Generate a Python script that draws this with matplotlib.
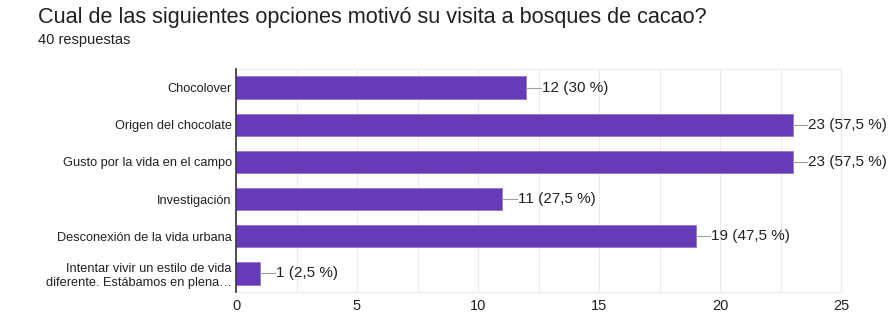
import matplotlib
matplotlib.use('Agg')
import matplotlib.pyplot as plt
import numpy as np

plt.rcParams['font.family'] = ['Liberation Sans', 'DejaVu Sans']

categories = [
    "Chocolover",
    "Origen del chocolate",
    "Gusto por la vida en el campo",
    "Investigación",
    "Desconexión de la vida urbana",
    "Intentar vivir un estilo de vida\ndiferente. Estábamos en plena…",
]
counts = [12, 23, 23, 11, 19, 1]
percents = ["30", "57,5", "57,5", "27,5", "47,5", "2,5"]
xticks = [0, 5, 10, 15, 20, 25]

fig = plt.figure(figsize=(8.9, 3.14), dpi=100)
ax = fig.add_axes([236 / 890, 1 - 292 / 314, (841 - 236) / 890, (292 - 69) / 314])

y = np.arange(len(categories))
ax.barh(y, counts, height=0.6, color='#673ab7', edgecolor='#9575cd', linewidth=0.6, zorder=3)

# etiquetas con línea guía
for yi, c, p in zip(y, counts, percents):
    ax.plot([c, c + 0.6], [yi, yi], color='#9e9e9e', linewidth=0.8, zorder=3)
    ax.text(c + 0.64, yi, f"{c} ({p} %)", va='center', ha='left', fontsize=11, color='#212121')

ax.set_ylim(len(categories) - 0.5, -0.5)
ax.set_xlim(0, 25)
ax.set_yticks(y)
ax.set_yticklabels(categories, fontsize=9.2, color='#212121', linespacing=1.25)
ax.set_xticks(xticks)
ax.set_xticklabels([str(t) for t in xticks], fontsize=10.5, color='#212121')
ax.set_xticks(np.arange(0, 25.1, 2.5), minor=True)
ax.tick_params(axis='both', length=0, pad=3)
ax.tick_params(axis='x', pad=5)
ax.tick_params(axis='x', which='minor', length=0)
ax.grid(axis='x', which='both', color='#ebebeb', linewidth=0.8, zorder=0)

for s in ['top', 'right', 'bottom']:
    ax.spines[s].set_color('#ebebeb')
    ax.spines[s].set_linewidth(0.8)
ax.spines['left'].set_color('#333333')
ax.spines['left'].set_linewidth(1.2)
ax.spines['left'].set_zorder(4)

fig.text(38 / 890, 1 - 17 / 314, "Cual de las siguientes opciones motivó su visita a bosques de cacao?",
         fontsize=15.6, va='center', ha='left', color='#212121')
fig.text(38 / 890, 1 - 40 / 314, "40 respuestas", fontsize=10.5, va='center', ha='left', color='#212121')

fig.savefig('out.png', dpi=100)
